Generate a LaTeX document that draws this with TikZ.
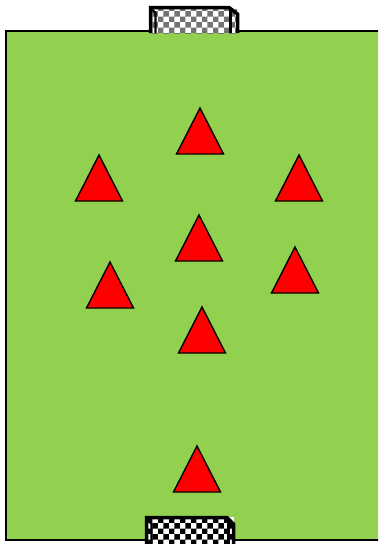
\documentclass[tikz,border=0pt]{standalone}
\usetikzlibrary{patterns}
\definecolor{pitch}{RGB}{146,208,80}
\tikzset{
  cone/.style={fill=red,draw=black,line width=1.4pt,line join=miter},
  goalframe/.style={draw=black,line width=3.5pt,line join=miter},
  goalinner/.style={draw=black,line width=2.2pt},
}
\begin{document}
\begin{tikzpicture}[x=1pt,y=-1pt]
\useasboundingbox (0,0) rectangle (378,544);
\clip (0,0) rectangle (378,544);
% pitch
\fill[white] (0,0) rectangle (378,544);
\draw[fill=pitch,line width=1.5pt] (6,31) rectangle (390,540);
% top goal
\fill[white] (150,8) rectangle (238,33);
\fill[pattern=checkerboard,pattern color=black!55] (152,9) rectangle (237,33);
\draw[goalframe] (150.5,33) -- (150.5,7.5) -- (229,7.5) -- (237.5,14) -- (237.5,33);
\draw[goalinner] (155.5,33) -- (155.5,13) -- (151,8.5);
\draw[goalinner] (230.5,33) -- (230.5,9);
% bottom goal
\fill[white] (146,517) rectangle (234,544);
\fill[pattern=checkerboard,pattern color=black] (148,519) rectangle (233,544);
\draw[goalframe] (146.5,545) -- (146.5,517.5) -- (227,517.5) -- (233.5,524) -- (233.5,545);
\draw[goalinner] (151.5,545) -- (151.5,524) -- (147,519);
\draw[goalinner] (228.5,545) -- (228.5,519);
% cones (apex x, apex y)
\foreach \ax/\ay in {200/108, 99/155, 299/155, 199/215, 110/262, 295/247, 202/307, 197/446}{
  \draw[cone] (\ax-23.5,\ay+46) -- (\ax,\ay) -- (\ax+23.5,\ay+46) -- cycle;
}
\end{tikzpicture}
\end{document}
